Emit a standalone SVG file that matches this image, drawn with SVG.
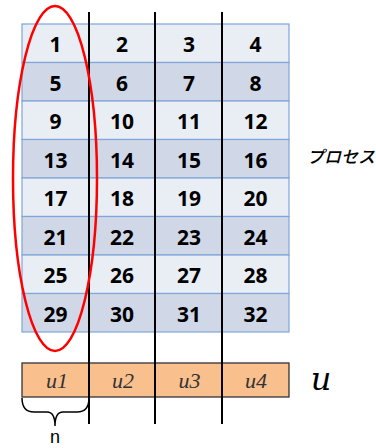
<svg xmlns="http://www.w3.org/2000/svg" width="376" height="448" viewBox="0 0 376 448">
<style>
.l{fill:#E9EDF4;stroke:#7FA6D8;stroke-width:1.2}
.d{fill:#D0D8E8;stroke:#7FA6D8;stroke-width:1.2}
.u{fill:#F9C08E;stroke:#333;stroke-width:1.3}
.v{stroke:#000;stroke-width:2;fill:none}
</style>
<g id="table">
<rect class="l" x="22" y="24" width="267" height="38.5"/>
<rect class="d" x="22" y="62.5" width="267" height="38.5"/>
<rect class="l" x="22" y="101" width="267" height="38.5"/>
<rect class="d" x="22" y="139.5" width="267" height="38.5"/>
<rect class="l" x="22" y="178" width="267" height="38.5"/>
<rect class="d" x="22" y="216.5" width="267" height="38.5"/>
<rect class="l" x="22" y="255" width="267" height="38.5"/>
<rect class="d" x="22" y="293.5" width="267" height="38.5"/>
<g font-family="'Open Sans','Liberation Sans',sans-serif" font-weight="bold" font-size="21" fill="#000" text-anchor="middle">
<text x="55.4" y="52">1</text><text x="122.1" y="52">2</text><text x="188.9" y="52">3</text><text x="255.6" y="52">4</text>
<text x="55.4" y="90.5">5</text><text x="122.1" y="90.5">6</text><text x="188.9" y="90.5">7</text><text x="255.6" y="90.5">8</text>
<text x="55.4" y="129">9</text><text x="122.1" y="129">10</text><text x="188.9" y="129">11</text><text x="255.6" y="129">12</text>
<text x="55.4" y="167.5">13</text><text x="122.1" y="167.5">14</text><text x="188.9" y="167.5">15</text><text x="255.6" y="167.5">16</text>
<text x="55.4" y="206">17</text><text x="122.1" y="206">18</text><text x="188.9" y="206">19</text><text x="255.6" y="206">20</text>
<text x="55.4" y="244.5">21</text><text x="122.1" y="244.5">22</text><text x="188.9" y="244.5">23</text><text x="255.6" y="244.5">24</text>
<text x="55.4" y="283">25</text><text x="122.1" y="283">26</text><text x="188.9" y="283">27</text><text x="255.6" y="283">28</text>
<text x="55.4" y="321.5">29</text><text x="122.1" y="321.5">30</text><text x="188.9" y="321.5">31</text><text x="255.6" y="321.5">32</text>
</g>
</g>
<g id="process-label">
<text x="341" y="163" font-family="'Noto Sans CJK JP',sans-serif" font-style="italic" font-weight="500" font-size="17" text-anchor="middle" fill="#000">プロセス</text>
</g>
<g id="u-array">
<rect class="u" x="22" y="363" width="267" height="34"/>
<g font-family="'Liberation Serif',serif" font-style="italic" font-size="22" fill="#333" text-anchor="middle">
<text x="57" y="388">u1</text>
<text x="123" y="388">u2</text>
<text x="189.5" y="388">u3</text>
<text x="256" y="388">u4</text>
</g>
</g>
<g id="u-label">
<text x="321" y="390" font-family="'DejaVu Serif','Liberation Serif',serif" font-style="italic" font-size="32" text-anchor="middle" fill="#000">u</text>
</g>
<g id="connectors">
<line class="v" x1="89" y1="12" x2="89" y2="424"/>
<line class="v" x1="155" y1="12" x2="155" y2="424"/>
<line class="v" x1="222" y1="12" x2="222" y2="424"/>
</g>
<g id="ellipse">
<ellipse cx="55" cy="178.5" rx="42" ry="172.5" fill="none" stroke="#FF0000" stroke-width="2.5"/>
</g>
<g id="brace">
<path d="M22,398 Q22,412 34,412 L47,412 Q55,412 55,426 Q55,412 63,412 L77,412 Q89,412 89,398" fill="none" stroke="#000" stroke-width="1.5"/>
<text x="55" y="443" font-family="'Liberation Sans',sans-serif" font-size="18" text-anchor="middle" fill="#000">n</text>
</g>
</svg>
